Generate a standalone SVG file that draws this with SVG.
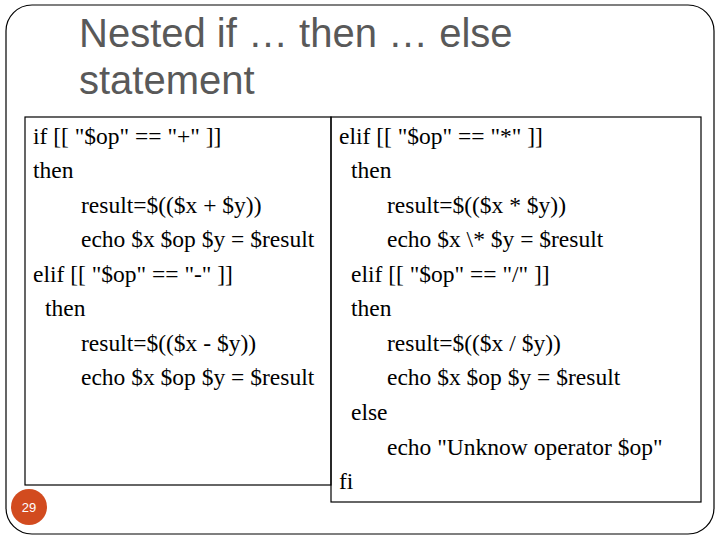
<svg xmlns="http://www.w3.org/2000/svg" width="720" height="540" viewBox="0 0 720 540">
<style>
.c{font-family:"Liberation Serif",serif;font-size:23.5px;fill:#000}
.t{font-family:"Liberation Sans",sans-serif;font-size:40px;fill:#595959}
.b{fill:none;stroke:#000;stroke-width:1.2}
</style>
<rect width="720" height="540" fill="#fff"/>
<rect x="6" y="5" width="708" height="529" rx="26" class="b"/>
<g id="title"><text class="t" x="79" y="47">Nested if … then … else</text><text class="t" x="79" y="94">statement</text></g>
<g id="left">
<rect x="25" y="117" width="306" height="368" class="b"/>
<text class="c" x="33" y="144">if [[ "$op" == "+" ]]</text>
<text class="c" x="33" y="178">then</text>
<text class="c" x="81" y="213">result=$(($x + $y))</text>
<text class="c" x="81" y="247">echo $x $op $y = $result</text>
<text class="c" x="33" y="282">elif [[ "$op" == "-" ]]</text>
<text class="c" x="45" y="316">then</text>
<text class="c" x="81" y="351">result=$(($x - $y))</text>
<text class="c" x="81" y="385">echo $x $op $y = $result</text>
</g>
<g id="right">
<rect x="331" y="117" width="370" height="385" class="b"/>
<text class="c" x="339" y="144">elif [[ "$op" == "*" ]]</text>
<text class="c" x="351" y="178">then</text>
<text class="c" x="387" y="213">result=$(($x * $y))</text>
<text class="c" x="387" y="247">echo $x \* $y = $result</text>
<text class="c" x="351" y="282">elif [[ "$op" == "/" ]]</text>
<text class="c" x="351" y="316">then</text>
<text class="c" x="387" y="351">result=$(($x / $y))</text>
<text class="c" x="387" y="385">echo $x $op $y = $result</text>
<text class="c" x="351" y="420">else</text>
<text class="c" x="387" y="455">echo "Unknow operator $op"</text>
<text class="c" x="339" y="489">fi</text>
</g>
<g id="page"><circle cx="29" cy="507" r="18" fill="#d24b1f"/><text x="29" y="512" text-anchor="middle" font-family="Liberation Sans,sans-serif" font-size="13" fill="#fff">29</text></g>
</svg>
